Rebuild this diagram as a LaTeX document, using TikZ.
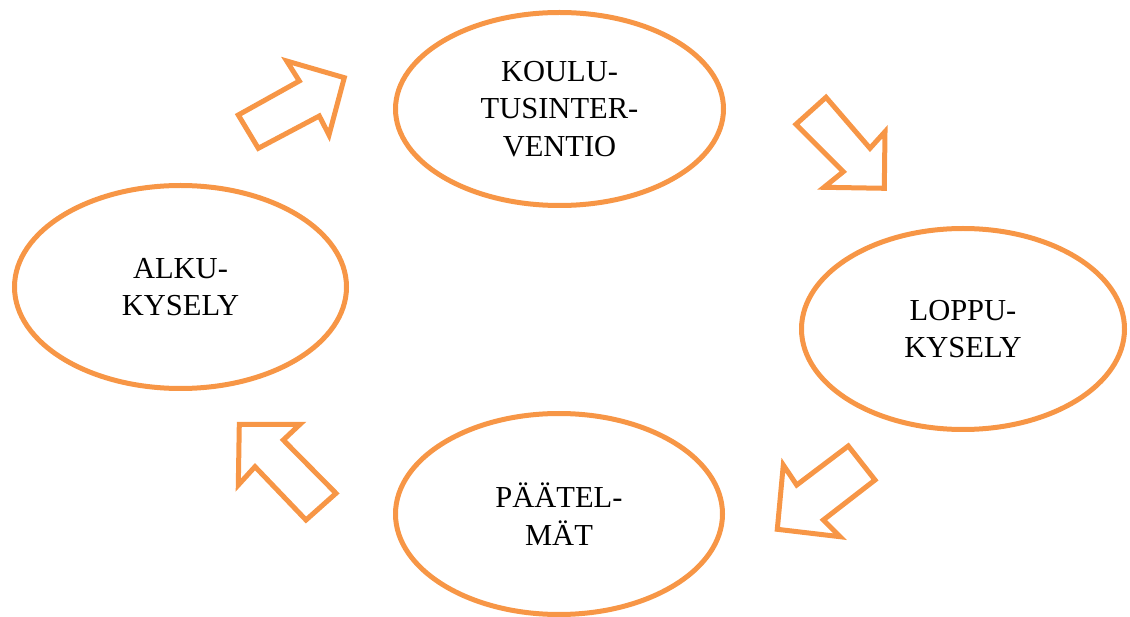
\documentclass[tikz,border=0pt]{standalone}
\usepackage{fontspec}
\setmainfont{Liberation Serif}
\usetikzlibrary{shapes.geometric}
\definecolor{accent}{HTML}{F79646}
\begin{document}
\begin{tikzpicture}[x=1pt,y=-1pt,
  stage/.style={ellipse, draw=accent, line width=5pt, inner sep=0pt,
    align=center, font=\fontsize{30.5}{37.5}\selectfont},
  blockarrow/.style={draw=accent, line width=5pt, line join=miter}]
\useasboundingbox (0,0) rectangle (1130,617);

% the four stages of the cycle
\node[stage, minimum width=328pt, minimum height=193pt] (interv) at (559.5,109)
  {KOULU-\\TUSINTER-\\VENTIO};
\node[stage, minimum width=332pt, minimum height=203pt] (alku) at (180.5,287)
  {ALKU-\\KYSELY};
\node[stage, minimum width=323pt, minimum height=201pt] (loppu) at (963,329)
  {LOPPU-\\KYSELY};
\node[stage, minimum width=327pt, minimum height=201pt] (paat) at (559,514)
  {PÄÄTEL-\\MÄT};

% block arrows between the stages
% alku -> interv
\draw[blockarrow] (238.3,115) -- (258.3,148.3) -- (319.3,116) -- (329,135)
  -- (344.3,77.7) -- (286.7,61) -- (299.3,81) -- cycle;
% interv -> loppu
\draw[blockarrow] (826,97.3) -- (796,124.3) -- (843.3,171.7) -- (824,187.3)
  -- (884.3,188.3) -- (885,131.7) -- (870,148.3) -- cycle;
% loppu -> paat
\draw[blockarrow] (848.3,446) -- (875,480) -- (823.3,520) -- (840,536.7)
  -- (777.3,529.3) -- (783.3,465) -- (796.7,485) -- cycle;
% paat -> alku
\draw[blockarrow] (239.3,424.3) -- (300,424.3) -- (283.3,440) -- (336,493.3)
  -- (306,520) -- (255,466.7) -- (238.3,485) -- cycle;
\end{tikzpicture}
\end{document}
